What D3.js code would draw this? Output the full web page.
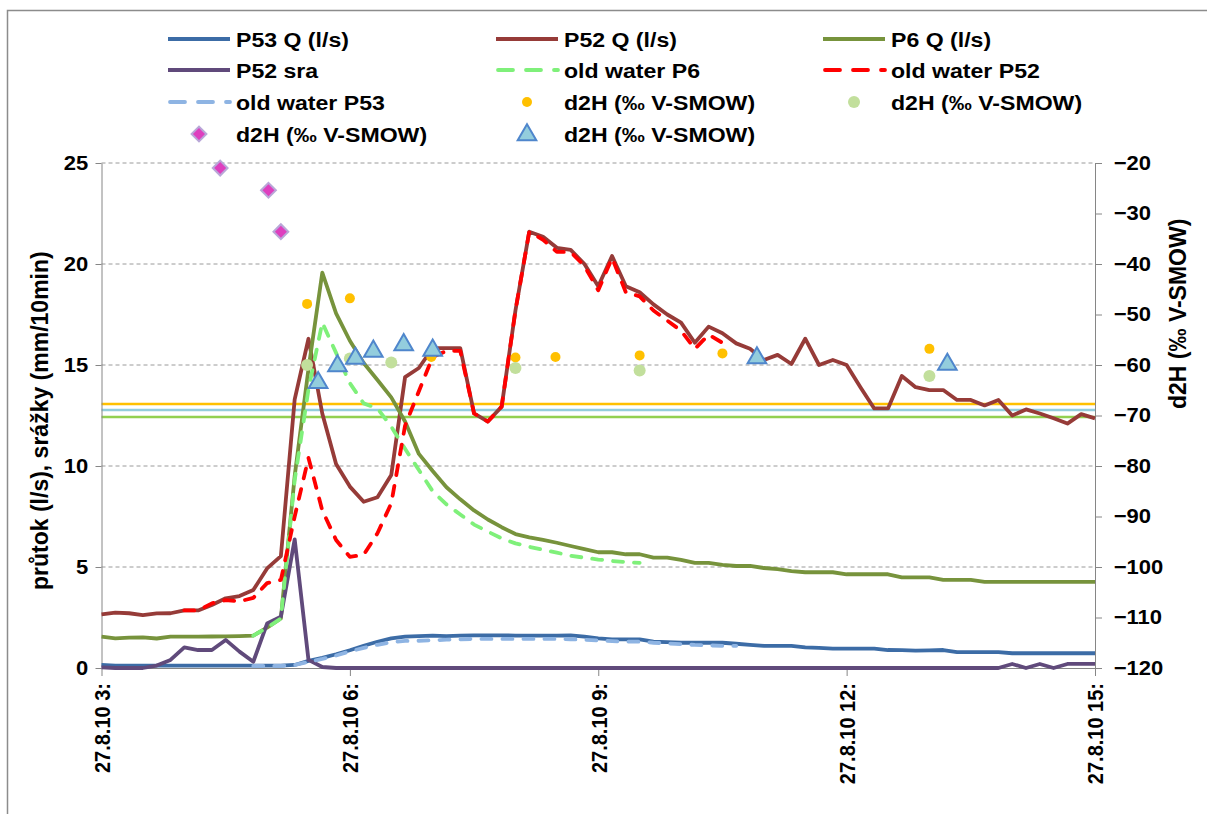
<!DOCTYPE html>
<html>
  <head>
    <meta charset="utf-8">
    <title>P52 / P53 / P6 - průtok a d2H</title>
    <style>
      body { margin: 0; background: #fff; }
      svg text { font-family: "Liberation Sans", Arial, sans-serif; font-weight: bold; fill: #000; }
    </style>
  </head>
  <body>
    <script src="https://d3js.org/d3.v7.min.js"></script>
    <script>
      // time axis: 10 min steps, 27.8.2010 3:00 - 15:00
      const start = new Date(2010, 7, 27, 3, 0);
      const end = new Date(2010, 7, 27, 15, 0);
      const times = d3.timeMinute.every(10).range(start, d3.timeMinute.offset(end, 1));

      const xTickHours = [3, 6, 9, 12, 15];
      const xTickLabels = ["27.8.10 3:", "27.8.10 6:", "27.8.10 9:", "27.8.10 12:", "27.8.10 15:"];
      const leftTicks = [0, 5, 10, 15, 20, 25];
      const rightTicks = [-120, -110, -100, -90, -80, -70, -60, -50, -40, -30, -20];

      // discharge / rainfall (left axis)
      const p53Q = [0.15,0.12,0.12,0.12,0.12,0.12,0.12,0.12,0.12,0.12,
        0.12,0.12,0.12,0.12,0.15,0.35,0.5,0.68,0.88,1.1,
        1.3,1.47,1.55,1.58,1.6,1.58,1.6,1.62,1.62,1.62,
        1.6,1.6,1.6,1.6,1.62,1.55,1.47,1.42,1.42,1.42,
        1.3,1.28,1.25,1.25,1.25,1.25,1.2,1.15,1.1,1.1,
        1.1,1.02,1.0,0.96,0.96,0.96,0.96,0.89,0.88,0.86,
        0.87,0.89,0.79,0.79,0.79,0.79,0.73,0.73,0.73,0.73,
        0.73,0.73,0.73];
      const p52Q = [2.66,2.74,2.71,2.62,2.7,2.71,2.85,2.85,3.12,3.45,
        3.56,3.86,4.93,5.54,13.3,16.3,12.6,10.1,8.98,8.23,
        8.45,9.55,14.4,14.85,15.84,15.84,15.84,12.6,12.2,12.94,
        17.7,21.6,21.35,20.8,20.7,20.0,18.9,20.4,18.9,18.6,
        18.0,17.5,17.1,16.1,16.9,16.57,16.07,15.8,15.25,15.5,
        15.05,16.3,15.0,15.25,15.0,13.9,12.85,12.85,14.46,13.9,
        13.76,13.76,13.27,13.27,13.0,13.27,12.5,12.8,12.6,12.36,
        12.1,12.57,12.36];
      const p6Q = [1.55,1.47,1.5,1.52,1.46,1.55,1.55,1.55,1.56,1.57,
        1.58,1.6,2.0,2.45,9.5,14.8,19.57,17.56,16.2,15.1,
        14.26,13.4,12.2,10.6,9.75,8.95,8.35,7.8,7.35,6.97,
        6.63,6.47,6.34,6.2,6.04,5.89,5.73,5.73,5.63,5.63,
        5.46,5.46,5.35,5.2,5.2,5.1,5.05,5.05,4.95,4.89,
        4.8,4.74,4.74,4.74,4.64,4.64,4.64,4.64,4.49,4.49,
        4.49,4.36,4.36,4.36,4.26,4.26,4.26,4.26,4.26,4.26,
        4.26,4.26,4.26];
      const p52Sra = [0.03,0,0,0,0.12,0.4,1.02,0.89,0.89,1.39,
        0.81,0.31,2.2,2.54,6.37,0.4,0.05,0,0,0,
        0,0,0,0,0,0,0,0,0,0,
        0,0,0,0,0,0,0,0,0,0,
        0,0,0,0,0,0,0,0,0,0,
        0,0,0,0,0,0,0,0,0,0,
        0,0,0,0,0,0,0.2,0,0.2,0,
        0.2,0.2,0.2];
      const oldP6 = [null,null,null,null,null,null,null,null,null,null,
        null,1.6,2.0,2.45,9.3,13.8,17.1,15.6,14.1,13.1,
        12.85,11.95,10.85,9.8,8.75,8.1,7.6,7.1,6.75,6.42,
        6.17,6.0,5.85,5.71,5.56,5.46,5.37,5.3,5.24,5.2];
      const oldP52 = [null,null,null,null,null,null,2.85,2.85,3.2,3.36,
        3.3,3.47,4.2,4.36,7.5,10.4,7.8,6.34,5.5,5.6,
        6.67,8.15,12.0,13.7,15.4,15.7,15.7,12.6,12.2,12.94,
        17.7,21.6,21.2,20.6,20.6,19.9,18.7,20.3,18.6,18.4,
        17.7,17.2,16.7,15.8,16.5,16.1];
      const oldP53 = [null,null,null,null,null,null,null,null,null,null,
        null,0.1,0.1,0.1,0.15,0.3,0.45,0.62,0.82,1.0,
        1.15,1.28,1.34,1.35,1.37,1.4,1.42,1.44,1.44,1.44,
        1.44,1.44,1.44,1.44,1.42,1.4,1.36,1.33,1.31,1.3,
        1.25,1.22,1.18,1.14,1.12,1.1,1.1];

      // d2H samples (right axis)
      const orangeTimes = ["05:29", "06:00", "06:59", "08:00", "08:29", "09:30", "10:30", "13:00"];
      const orangeD2H = [-47.9, -46.8, -58.4, -58.5, -58.4, -58.1, -57.7, -56.8];
      const greenTimes = ["05:29", "06:00", "06:30", "08:00", "09:30", "13:00"];
      const greenD2H = [-60.0, -58.7, -59.5, -60.6, -61.1, -62.2];
      const diamondTimes = ["04:26", "05:01", "05:10"];
      const diamondD2H = [-21.0, -25.4, -33.6];
      const triangleTimes = ["05:37", "05:51", "06:04", "06:17", "06:39", "07:00", "10:55", "13:13"];
      const triangleD2H = [-63.3, -60.0, -58.5, -57.1, -55.8, -56.9, -58.4, -59.7];

      // constant d2H levels
      const refLevels = [-67.7, -68.9, -70.3];
      const refColors = ["#FFC000", "#92CDDC", "#92D050"];

      function at(hm) {
        const p = hm.split(":");
        return new Date(2010, 7, 27, +p[0], +p[1]);
      }

      const wide = "scale(1.1,1)"; // reference text runs a bit wide

      const svg = d3.select("body").append("svg")
        .attr("width", 1207)
        .attr("height", 814);

      // outer frame
      svg.append("rect")
        .attr("x", 7.5).attr("y", 10.5)
        .attr("width", 1300).attr("height", 900)
        .attr("fill", "none").attr("stroke", "#8c8c8c").attr("stroke-width", 1.5);

      const x = d3.scaleTime().domain([start, end]).range([101.5, 1095]);
      const yL = d3.scaleLinear().domain([0, 25]).range([668, 163]);
      const yR = d3.scaleLinear().domain([-120, -20]).range([668, 163]);

      // gridlines
      svg.append("g").selectAll("line")
        .data(leftTicks.slice(1))
        .join("line")
        .attr("x1", x.range()[0]).attr("x2", x.range()[1])
        .attr("y1", d => yL(d)).attr("y2", d => yL(d))
        .attr("stroke", "#9a9a9a").attr("stroke-width", 1)
        .attr("stroke-dasharray", "4,3");

      // constant levels
      svg.append("g").selectAll("line")
        .data(refLevels)
        .join("line")
        .attr("x1", x.range()[0]).attr("x2", x.range()[1])
        .attr("y1", d => yR(d)).attr("y2", d => yR(d))
        .attr("stroke", (d, i) => refColors[i]).attr("stroke-width", 2.5);

      // axes
      function styleAxis(g) {
        g.attr("font-size", 20).attr("font-family", "Liberation Sans, Arial, sans-serif");
        g.selectAll("path, line").attr("stroke", "#868686");
      }
      svg.append("g")
        .attr("transform", "translate(101.5,0)")
        .call(d3.axisLeft(yL).tickValues(leftTicks).tickSize(6).tickSizeOuter(0).tickPadding(6))
        .call(styleAxis)
        .selectAll("text").attr("transform", wide);
      svg.append("g")
        .attr("transform", "translate(1095,0)")
        .call(d3.axisRight(yR).tickValues(rightTicks).tickSize(7).tickSizeOuter(0).tickPadding(10))
        .call(styleAxis)
        .selectAll("text").attr("transform", wide);
      const xTicks = xTickHours.map(h => new Date(2010, 7, 27, h, 0));
      const xAxis = svg.append("g")
        .attr("transform", "translate(0,668)")
        .call(d3.axisBottom(x).tickValues(xTicks).tickSize(8).tickSizeOuter(0)
          .tickFormat((d, i) => xTickLabels[i]))
        .call(styleAxis);
      xAxis.selectAll("text")
        .attr("transform", "rotate(-90) scale(1,1.1)")
        .attr("text-anchor", "end")
        .attr("x", -15).attr("y", 0)
        .attr("dy", "0.36em");

      // axis titles
      svg.append("text")
        .attr("transform", "translate(48,590) rotate(-90)")
        .attr("font-size", 23)
        .text("průtok (l/s), srážky (mm/10min)");
      svg.append("text")
        .attr("transform", "translate(1186,409) rotate(-90)")
        .attr("font-size", 23)
        .text("d2H (‰ V-SMOW)");

      // series lines
      const lineSeries = [
        { values: p53Q, color: "#3C6CA6", dash: null },
        { values: p52Q, color: "#963B38", dash: null },
        { values: p6Q, color: "#77933C", dash: null },
        { values: p52Sra, color: "#604A7B", dash: null },
        { values: oldP6, color: "#7FF07A", dash: "10,11" },
        { values: oldP52, color: "#FF0000", dash: "10,11" },
        { values: oldP53, color: "#8EB4E3", dash: "10,11" }
      ];
      const line = d3.line()
        .defined(d => d != null)
        .x((d, i) => x(times[i]))
        .y(d => yL(d));
      svg.append("g").selectAll("path")
        .data(lineSeries)
        .join("path")
        .attr("d", d => line(d.values))
        .attr("fill", "none")
        .attr("stroke", d => d.color)
        .attr("stroke-width", 3.8)
        .attr("stroke-linejoin", "round")
        .attr("stroke-linecap", d => d.dash ? "round" : "butt")
        .attr("stroke-dasharray", d => d.dash);

      // d2H markers
      const diamond = d3.symbol().type(d3.symbolSquare).size(110);
      const triangle = d3.symbol().type(d3.symbolTriangle).size(150);

      svg.append("g").selectAll("circle")
        .data(orangeTimes)
        .join("circle")
        .attr("cx", d => x(at(d)))
        .attr("cy", (d, i) => yR(orangeD2H[i]))
        .attr("r", 5)
        .attr("fill", "#FFC000");
      svg.append("g").selectAll("circle")
        .data(greenTimes)
        .join("circle")
        .attr("cx", d => x(at(d)))
        .attr("cy", (d, i) => yR(greenD2H[i]))
        .attr("r", 6)
        .attr("fill", "#C2DF9C");
      svg.append("g").selectAll("path")
        .data(diamondTimes)
        .join("path")
        .attr("d", diamond)
        .attr("transform", (d, i) => `translate(${x(at(d))},${yR(diamondD2H[i])}) rotate(45)`)
        .attr("fill", "#DE3FBF")
        .attr("stroke", "#B9A7D8")
        .attr("stroke-width", 2);
      svg.append("g").selectAll("path")
        .data(triangleTimes)
        .join("path")
        .attr("d", triangle)
        .attr("transform", (d, i) => `translate(${x(at(d))},${yR(triangleD2H[i]) + 1})`)
        .attr("fill", "#93CDDD")
        .attr("stroke", "#4F86CC")
        .attr("stroke-width", 2);

      // legend
      const legendCols = [168, 496, 823];
      const legendRows = [39, 70, 102, 134];
      const legendItems = [
        { label: "P53 Q (l/s)", kind: "line", color: "#3C6CA6" },
        { label: "P52 Q (l/s)", kind: "line", color: "#963B38" },
        { label: "P6 Q (l/s)", kind: "line", color: "#77933C" },
        { label: "P52 sra", kind: "line", color: "#604A7B" },
        { label: "old water P6", kind: "dash", color: "#7FF07A" },
        { label: "old water P52", kind: "dash", color: "#FF0000" },
        { label: "old water P53", kind: "dash", color: "#8EB4E3" },
        { label: "d2H (‰ V-SMOW)", kind: "dot", color: "#FFC000", r: 5 },
        { label: "d2H (‰ V-SMOW)", kind: "dot", color: "#C2DF9C", r: 6 },
        { label: "d2H (‰ V-SMOW)", kind: "diamond" },
        { label: "d2H (‰ V-SMOW)", kind: "triangle" }
      ];
      const legend = svg.append("g");
      legendItems.forEach((item, i) => {
        const lx = legendCols[i % 3];
        const ly = legendRows[Math.floor(i / 3)];
        const g = legend.append("g").attr("transform", `translate(${lx},${ly})`);
        if (item.kind === "line") {
          g.append("line").attr("x1", 0).attr("x2", 62)
            .attr("stroke", item.color).attr("stroke-width", 3.8);
        } else if (item.kind === "dash") {
          g.append("line").attr("x1", 2).attr("x2", 62)
            .attr("stroke", item.color).attr("stroke-width", 3.8)
            .attr("stroke-dasharray", "15,13").attr("stroke-linecap", "round");
        } else if (item.kind === "dot") {
          g.append("circle").attr("cx", 31).attr("r", item.r).attr("fill", item.color);
        } else if (item.kind === "diamond") {
          g.append("path").attr("d", diamond)
            .attr("transform", "translate(31,0) rotate(45)")
            .attr("fill", "#DE3FBF").attr("stroke", "#B9A7D8").attr("stroke-width", 2);
        } else {
          g.append("path").attr("d", triangle)
            .attr("transform", "translate(31,1)")
            .attr("fill", "#93CDDD").attr("stroke", "#4F86CC").attr("stroke-width", 2);
        }
        g.append("text")
          .attr("transform", "translate(68,0) " + wide)
          .attr("dy", "0.36em")
          .attr("font-size", 21)
          .text(item.label);
      });
    </script>
  </body>
</html>
